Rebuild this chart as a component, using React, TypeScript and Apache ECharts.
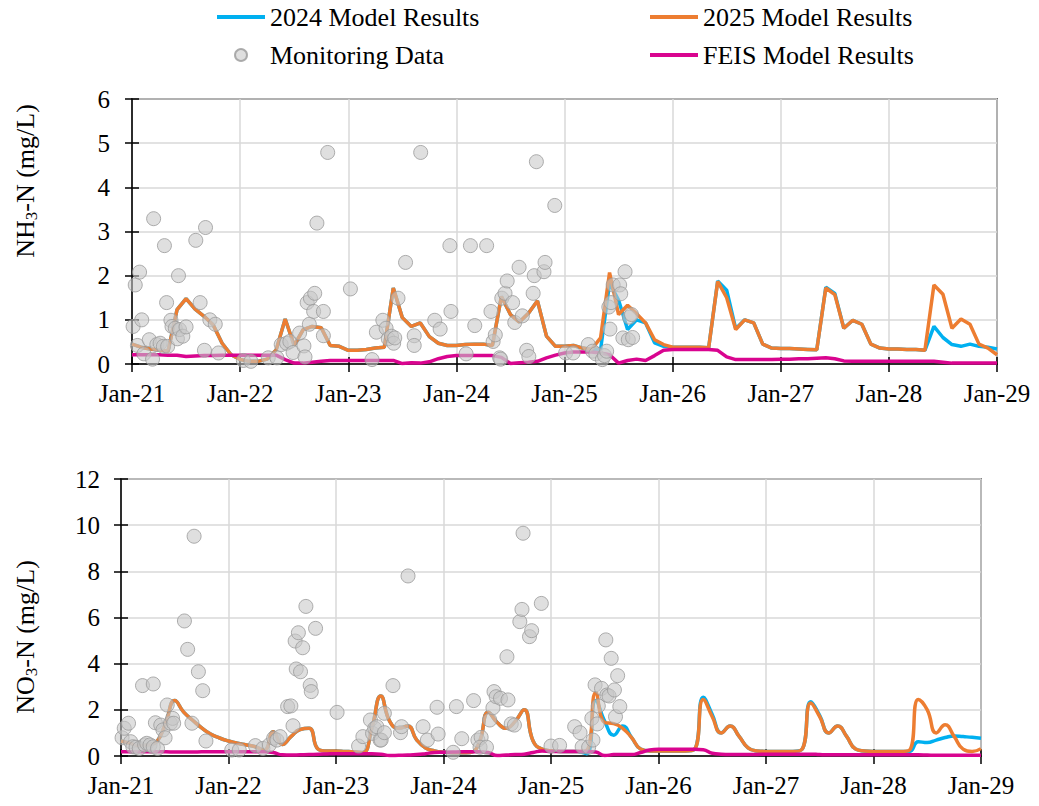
import React, { useEffect, useRef } from 'react';
import * as echarts from 'echarts';

const FONT = 'Liberation Serif';

const START_YEAR = 2021;
const END_YEAR = 2029;

// Monthly model results, Jan-21 .. Jan-29 (97 months)
const nh3Model2024 = [
  0.45, 0.38, 0.34, 0.32, 0.29, 1.23, 1.48, 1.24, 1.08, 0.89, 0.47, 0.21,
  0.10, 0.06, 0.06, 0.11, 0.32, 1.02, 0.42, 0.78, 0.85, 0.82, 0.42, 0.40,
  0.31, 0.31, 0.33, 0.36, 0.38, 1.72, 1.05, 0.85, 0.93, 0.62, 0.47, 0.42,
  0.42, 0.44, 0.45, 0.45, 0.42, 1.53, 1.12, 0.95, 1.15, 1.43, 0.63, 0.40,
  0.40, 0.42, 0.36, 0.33, 0.32, 1.83, 1.45, 0.78, 1.00, 0.93, 0.48, 0.40,
  0.38, 0.38, 0.38, 0.38, 0.37, 1.88, 1.67, 0.80, 1.00, 0.93, 0.45, 0.36,
  0.35, 0.35, 0.34, 0.33, 0.32, 1.74, 1.60, 0.81, 0.99, 0.90, 0.45, 0.36,
  0.34, 0.34, 0.33, 0.33, 0.31, 0.85, 0.60, 0.44, 0.40, 0.45, 0.40, 0.38,
  0.34,
];
const nh3Model2025 = [
  0.45, 0.38, 0.34, 0.32, 0.29, 1.23, 1.48, 1.24, 1.08, 0.89, 0.47, 0.21,
  0.10, 0.06, 0.06, 0.11, 0.32, 1.02, 0.42, 0.78, 0.85, 0.82, 0.42, 0.40,
  0.31, 0.31, 0.33, 0.36, 0.38, 1.72, 1.05, 0.85, 0.93, 0.62, 0.47, 0.42,
  0.42, 0.44, 0.45, 0.45, 0.42, 1.53, 1.12, 0.95, 1.15, 1.43, 0.63, 0.40,
  0.40, 0.42, 0.36, 0.33, 0.59, 2.07, 1.12, 1.33, 1.14, 0.93, 0.55, 0.44,
  0.38, 0.38, 0.38, 0.38, 0.37, 1.87, 1.50, 0.78, 1.00, 0.93, 0.45, 0.36,
  0.35, 0.35, 0.34, 0.33, 0.32, 1.72, 1.57, 0.81, 0.99, 0.90, 0.45, 0.36,
  0.34, 0.34, 0.33, 0.33, 0.31, 1.79, 1.58, 0.81, 1.02, 0.90, 0.45, 0.36,
  0.21,
];
const nh3Feis = [
  0.21, 0.21, 0.21, 0.21, 0.20, 0.20, 0.17, 0.18, 0.19, 0.19, 0.20, 0.20,
  0.20, 0.20, 0.20, 0.20, 0.20, 0.10, 0.02, 0.02, 0.04, 0.06, 0.08, 0.08,
  0.08, 0.08, 0.08, 0.08, 0.08, 0.08, 0.01, 0.03, 0.02, 0.05, 0.12, 0.17,
  0.19, 0.19, 0.19, 0.19, 0.19, 0.15, 0.01, 0.03, 0.04, 0.06, 0.14, 0.20,
  0.25, 0.27, 0.27, 0.27, 0.25, 0.21, 0.02, 0.08, 0.11, 0.08, 0.19, 0.31,
  0.33, 0.33, 0.33, 0.33, 0.33, 0.31, 0.16, 0.10, 0.10, 0.10, 0.10, 0.10,
  0.11, 0.11, 0.12, 0.12, 0.13, 0.14, 0.12, 0.07, 0.06, 0.06, 0.06, 0.06,
  0.06, 0.06, 0.06, 0.06, 0.06, 0.06, 0.04, 0.02, 0.02, 0.02, 0.02, 0.02,
  0.02,
];

const no3Model2024 = [
  0.65, 0.55, 0.45, 0.48, 0.62, 1.45, 2.40, 1.90, 1.55, 1.22, 0.95, 0.78,
  0.65, 0.55, 0.48, 0.40, 0.25, 1.05, 0.50, 0.85, 1.15, 1.20, 0.30, 0.22,
  0.22, 0.20, 0.18, 0.15, 1.20, 2.60, 1.50, 1.20, 1.30, 0.70, 0.35, 0.22,
  0.16, 0.14, 0.14, 0.15, 0.60, 1.90, 1.45, 1.20, 1.50, 2.00, 0.65, 0.30,
  0.23, 0.20, 0.20, 0.20, 0.10, 2.40, 1.50, 0.90, 1.30, 0.80, 0.30, 0.22,
  0.22, 0.22, 0.22, 0.22, 0.28, 2.55, 1.80, 1.00, 1.30, 0.85, 0.35, 0.22,
  0.20, 0.20, 0.20, 0.20, 0.28, 2.35, 1.75, 1.00, 1.30, 0.85, 0.30, 0.22,
  0.20, 0.20, 0.20, 0.20, 0.20, 0.62, 0.58, 0.69, 0.80, 0.87, 0.84, 0.81,
  0.77,
];
const no3Model2025 = [
  0.65, 0.55, 0.45, 0.48, 0.62, 1.45, 2.40, 1.90, 1.55, 1.22, 0.95, 0.78,
  0.65, 0.55, 0.48, 0.40, 0.25, 1.05, 0.50, 0.85, 1.15, 1.20, 0.30, 0.22,
  0.22, 0.20, 0.18, 0.15, 1.20, 2.60, 1.50, 1.20, 1.30, 0.70, 0.35, 0.22,
  0.16, 0.14, 0.14, 0.15, 0.60, 1.90, 1.45, 1.20, 1.50, 2.00, 0.65, 0.30,
  0.23, 0.20, 0.20, 0.20, 0.25, 2.75, 1.45, 1.40, 1.20, 0.80, 0.30, 0.22,
  0.22, 0.22, 0.22, 0.22, 0.28, 2.45, 1.70, 1.00, 1.30, 0.85, 0.35, 0.22,
  0.20, 0.20, 0.20, 0.20, 0.28, 2.30, 1.70, 1.00, 1.30, 0.85, 0.30, 0.22,
  0.20, 0.20, 0.20, 0.20, 0.25, 2.45, 2.00, 1.00, 1.35, 0.85, 0.30, 0.20,
  0.32,
];
const no3Feis = [
  0.18, 0.18, 0.18, 0.18, 0.18, 0.18, 0.17, 0.17, 0.17, 0.18, 0.18, 0.18,
  0.18, 0.18, 0.18, 0.18, 0.18, 0.15, 0.05, 0.04, 0.05, 0.06, 0.08, 0.09,
  0.10, 0.10, 0.10, 0.10, 0.10, 0.08, 0.02, 0.03, 0.04, 0.06, 0.10, 0.15,
  0.16, 0.17, 0.18, 0.18, 0.18, 0.15, 0.02, 0.04, 0.06, 0.08, 0.15, 0.22,
  0.20, 0.20, 0.20, 0.20, 0.20, 0.17, 0.02, 0.06, 0.07, 0.06, 0.15, 0.26,
  0.29, 0.29, 0.29, 0.29, 0.29, 0.27, 0.12, 0.08, 0.07, 0.07, 0.07, 0.07,
  0.08, 0.08, 0.08, 0.08, 0.08, 0.08, 0.06, 0.05, 0.05, 0.05, 0.05, 0.05,
  0.05, 0.05, 0.05, 0.05, 0.05, 0.05, 0.04, 0.03, 0.03, 0.03, 0.03, 0.03,
  0.03,
];

// Monitoring data (decimal year, value)
const nh3ObsTimes = [
  2021.01, 2021.03, 2021.07, 2021.09, 2021.05, 2021.11, 2021.16, 2021.19, 2021.20, 2021.23,
  2021.26, 2021.29, 2021.30, 2021.32, 2021.33, 2021.36, 2021.37, 2021.40, 2021.42, 2021.43,
  2021.44, 2021.47, 2021.50, 2021.59, 2021.63, 2021.67, 2021.68, 2021.72, 2021.77, 2021.80,
  2022.03, 2022.10, 2022.26, 2022.34, 2022.38, 2022.43, 2022.46, 2022.49, 2022.55, 2022.59,
  2022.60, 2022.62, 2022.65, 2022.64, 2022.68, 2022.69, 2022.71, 2022.77, 2022.77, 2022.81,
  2023.02, 2023.22, 2023.26, 2023.32, 2023.35, 2023.37, 2023.40, 2023.42, 2023.43, 2023.46,
  2023.53, 2023.61, 2023.61, 2023.67, 2023.80, 2023.85, 2023.94, 2023.95, 2024.09, 2024.13,
  2024.17, 2024.28, 2024.32, 2024.34, 2024.36, 2024.40, 2024.41, 2024.42, 2024.45, 2024.47,
  2024.52, 2024.54, 2024.58, 2024.61, 2024.65, 2024.67, 2024.71, 2024.72, 2024.74, 2024.81,
  2024.82, 2024.91, 2025.01, 2025.08, 2025.22, 2025.26, 2025.29, 2025.35, 2025.37, 2025.39,
  2025.41, 2025.42, 2025.43, 2025.45, 2025.51, 2025.52, 2025.54, 2025.56, 2025.59, 2025.60,
  2025.62, 2025.63,
];
const nh3ObsValues = [
  0.85, 1.79, 2.08, 1.00, 0.42, 0.23, 0.55, 0.11, 3.29, 0.44,
  0.47, 0.40, 2.68, 1.39, 0.40, 0.99, 0.85, 0.81, 0.57, 2.00,
  0.78, 0.63, 0.84, 2.80, 1.39, 0.31, 3.09, 1.00, 0.90, 0.25,
  0.08, 0.06, 0.14, 0.14, 0.44, 0.47, 0.51, 0.26, 0.70, 0.41,
  0.16, 1.39, 1.49, 0.90, 1.19, 1.60, 3.19, 1.19, 0.64, 4.79,
  1.70, 0.10, 0.72, 0.99, 0.81, 0.57, 0.63, 0.47, 0.59, 1.49,
  2.30, 0.64, 0.42, 4.79, 0.99, 0.79, 2.68, 1.19, 0.23, 2.68,
  0.87, 2.68, 1.19, 0.51, 0.66, 0.14, 0.11, 1.49, 1.60, 1.88,
  1.39, 0.94, 2.19, 1.09, 0.31, 0.17, 1.60, 2.00, 4.58, 2.09,
  2.30, 3.59, 0.25, 0.25, 0.44, 0.29, 0.23, 0.10, 0.19, 0.29,
  1.29, 0.79, 1.39, 1.79, 1.79, 1.59, 0.59, 2.09, 0.55, 1.06,
  1.12, 0.60,
];

const no3ObsTimes = [
  2021.01, 2021.03, 2021.07, 2021.09, 2021.11, 2021.14, 2021.17, 2021.20, 2021.22, 2021.24,
  2021.27, 2021.30, 2021.30, 2021.32, 2021.34, 2021.37, 2021.39, 2021.41, 2021.43, 2021.46,
  2021.48, 2021.49, 2021.59, 2021.62, 2021.66, 2021.68, 2021.72, 2021.76, 2021.79, 2022.03,
  2022.10, 2022.25, 2022.32, 2022.38, 2022.42, 2022.45, 2022.48, 2022.55, 2022.58, 2022.60,
  2022.62, 2022.63, 2022.65, 2022.67, 2022.69, 2022.72, 2022.76, 2022.77, 2022.81, 2023.01,
  2023.21, 2023.25, 2023.32, 2023.34, 2023.36, 2023.38, 2023.41, 2023.42, 2023.45, 2023.45,
  2023.53, 2023.60, 2023.61, 2023.67, 2023.81, 2023.85, 2023.94, 2023.95, 2024.09, 2024.12,
  2024.17, 2024.28, 2024.32, 2024.35, 2024.34, 2024.40, 2024.43, 2024.46, 2024.47, 2024.49,
  2024.53, 2024.59, 2024.60, 2024.63, 2024.66, 2024.71, 2024.73, 2024.74, 2024.80, 2024.82,
  2024.91, 2025.00, 2025.08, 2025.22, 2025.27, 2025.29, 2025.35, 2025.38, 2025.39, 2025.41,
  2025.43, 2025.44, 2025.47, 2025.51, 2025.52, 2025.54, 2025.56, 2025.59, 2025.60, 2025.62,
  2025.64,
];
const no3ObsValues = [
  0.79, 1.20, 1.42, 0.62, 0.40, 0.38, 0.33, 3.05, 0.48, 0.55,
  0.48, 3.12, 0.40, 1.44, 0.33, 1.34, 1.13, 0.79, 2.21, 1.42,
  1.63, 1.42, 5.85, 4.62, 1.42, 9.52, 3.65, 2.83, 0.65, 0.26,
  0.26, 0.45, 0.33, 0.48, 0.77, 0.69, 0.84, 2.14, 2.17, 1.31,
  4.98, 3.77, 5.34, 3.65, 4.69, 6.48, 3.06, 2.79, 5.53, 1.89,
  0.43, 0.84, 1.56, 0.98, 1.20, 1.27, 0.69, 0.69, 1.85, 1.01,
  3.05, 1.01, 1.27, 7.80, 1.27, 0.69, 2.11, 0.95, 0.16, 2.14,
  0.75, 2.40, 0.69, 0.81, 0.38, 0.38, 1.56, 2.09, 2.79, 2.57,
  2.50, 4.30, 2.43, 1.39, 1.34, 5.82, 6.35, 9.65, 5.17, 5.43,
  6.61, 0.43, 0.46, 1.27, 1.01, 0.40, 0.38, 1.63, 0.69, 3.08,
  1.39, 2.17, 2.93, 5.03, 2.64, 2.60, 4.23, 2.86, 1.70, 3.48,
  2.14,
];

const SERIES_2024 = '2024 Model Results';
const SERIES_2025 = '2025 Model Results';
const SERIES_OBS = 'Monitoring Data';
const SERIES_FEIS = 'FEIS Model Results';

const COLOR_2024 = '#00b0f0';
const COLOR_2025 = '#ed7d31';
const COLOR_FEIS = '#d9048f';

const monthly = (vals: number[]) => vals.map((v, i) => [START_YEAR + i / 12, v]);
const pairs = (ts: number[], vs: number[]) => ts.map((t, i) => [t, vs[i]]);

const lineIcon = 'path://M0,0H50V4H0Z';

function makeXAxis(gridIndex: number, main: boolean) {
  const base: any = {
    type: 'value',
    gridIndex,
    min: START_YEAR,
    max: END_YEAR,
    interval: 1,
    position: 'bottom',
  };
  if (!main) {
    return {
      ...base,
      axisLine: { show: false },
      axisLabel: { show: false },
      splitLine: { show: false },
      axisTick: { show: true, inside: true, length: 7, lineStyle: { color: '#000', width: 1.5 } },
    };
  }
  return {
    ...base,
    axisLine: { show: true, onZero: false, lineStyle: { color: '#000', width: 1.5 } },
    axisTick: { show: true, inside: false, length: 8, lineStyle: { color: '#000', width: 1.5 } },
    axisLabel: {
      color: '#000',
      fontFamily: FONT,
      fontSize: 25,
      margin: 17,
      formatter: (v: number) => 'Jan-' + String(Math.round(v)).slice(2),
    },
    splitLine: { show: true, lineStyle: { color: '#d9d9d9', width: 1.5 } },
  };
}

function makeYAxis(gridIndex: number, main: boolean, max: number, interval: number, margin: number) {
  const base: any = {
    type: 'value',
    gridIndex,
    min: 0,
    max,
    interval,
    position: 'left',
  };
  if (!main) {
    return {
      ...base,
      axisLine: { show: false },
      axisLabel: { show: false },
      splitLine: { show: false },
      axisTick: { show: true, inside: true, length: 7, lineStyle: { color: '#000', width: 1.5 } },
    };
  }
  return {
    ...base,
    axisLine: { show: true, onZero: false, lineStyle: { color: '#000', width: 1.5 } },
    axisTick: { show: true, inside: false, length: 7, lineStyle: { color: '#000', width: 1.5 } },
    axisLabel: { color: '#000', fontFamily: FONT, fontSize: 25, margin },
    splitLine: { show: true, lineStyle: { color: '#d9d9d9', width: 1.5 } },
  };
}

function lineSeries(name: string, color: string, data: number[], axis: number, smooth: boolean, z: number) {
  return {
    name,
    type: 'line',
    xAxisIndex: axis,
    yAxisIndex: axis,
    data: monthly(data),
    showSymbol: false,
    smooth,
    lineStyle: { color, width: 3.5 },
    itemStyle: { color },
    z,
  };
}

function scatterSeries(ts: number[], vs: number[], axis: number) {
  return {
    name: SERIES_OBS,
    type: 'scatter',
    xAxisIndex: axis,
    yAxisIndex: axis,
    data: pairs(ts, vs),
    symbolSize: 14,
    itemStyle: { color: 'rgba(200,200,200,0.72)', borderColor: '#9a9a9a', borderWidth: 1 },
    z: 5,
  };
}

export default function App() {
  const ref = useRef<HTMLDivElement>(null);

  useEffect(() => {
    if (!ref.current) return;
    const chart = echarts.init(ref.current, undefined, { renderer: 'svg' });
    const legendText = { fontFamily: FONT, fontSize: 26, color: '#000', lineHeight: 30 };
    const nameRich = {
      a: { fontFamily: FONT, fontSize: 26, fill: '#000', color: '#000', lineHeight: 30 },
      s: { fontFamily: FONT, fontSize: 17, fill: '#000', color: '#000', verticalAlign: 'bottom' },
    };
    chart.setOption({
      animation: false,
      backgroundColor: '#fff',
      textStyle: { fontFamily: FONT },
      legend: [
        {
          left: 217,
          top: 2,
          orient: 'vertical',
          padding: 0,
          itemGap: 8,
          itemWidth: 48,
          itemHeight: 12,
          textStyle: legendText,
          data: [
            { name: SERIES_2024, icon: lineIcon },
            { name: SERIES_OBS, icon: 'circle' },
          ],
        },
        {
          left: 650,
          top: 2,
          orient: 'vertical',
          padding: 0,
          itemGap: 8,
          itemWidth: 48,
          itemHeight: 12,
          textStyle: legendText,
          data: [
            { name: SERIES_2025, icon: lineIcon },
            { name: SERIES_FEIS, icon: lineIcon },
          ],
        },
      ],
      grid: [
        { left: 132, top: 99, width: 865, height: 265, show: true, borderColor: '#000', borderWidth: 1.5, backgroundColor: 'transparent' },
        { left: 121, top: 479, width: 860, height: 277, show: true, borderColor: '#262626', borderWidth: 1.5, backgroundColor: 'transparent' },
      ],
      xAxis: [makeXAxis(0, true), makeXAxis(0, false), makeXAxis(1, true), makeXAxis(1, false)],
      yAxis: [
        makeYAxis(0, true, 6, 1, 22),
        makeYAxis(0, false, 6, 1, 22),
        makeYAxis(1, true, 12, 2, 21),
        makeYAxis(1, false, 12, 2, 21),
      ],
      graphic: [
        {
          type: 'text',
          x: 25,
          y: 181,
          rotation: Math.PI / 2,
          style: { text: '{a|NH}{s|3}{a|-N (mg/L)}', rich: nameRich, align: 'center', verticalAlign: 'middle' },
        },
        {
          type: 'text',
          x: 25,
          y: 637,
          rotation: Math.PI / 2,
          style: { text: '{a|NO}{s|3}{a|-N (mg/L)}', rich: nameRich, align: 'center', verticalAlign: 'middle' },
        },
      ],
      series: [
        lineSeries(SERIES_2024, COLOR_2024, nh3Model2024, 0, false, 2),
        lineSeries(SERIES_2025, COLOR_2025, nh3Model2025, 0, false, 3),
        lineSeries(SERIES_FEIS, COLOR_FEIS, nh3Feis, 0, false, 4),
        scatterSeries(nh3ObsTimes, nh3ObsValues, 0),
        lineSeries(SERIES_2024, COLOR_2024, no3Model2024, 2, true, 2),
        lineSeries(SERIES_2025, COLOR_2025, no3Model2025, 2, true, 3),
        lineSeries(SERIES_FEIS, COLOR_FEIS, no3Feis, 2, true, 4),
        scatterSeries(no3ObsTimes, no3ObsValues, 2),
      ],
    });
    return () => chart.dispose();
  }, []);

  return (
    <div
      ref={ref}
      style={{ position: 'fixed', left: 0, top: 0, width: 1039, height: 806, background: '#fff' }}
    />
  );
}
